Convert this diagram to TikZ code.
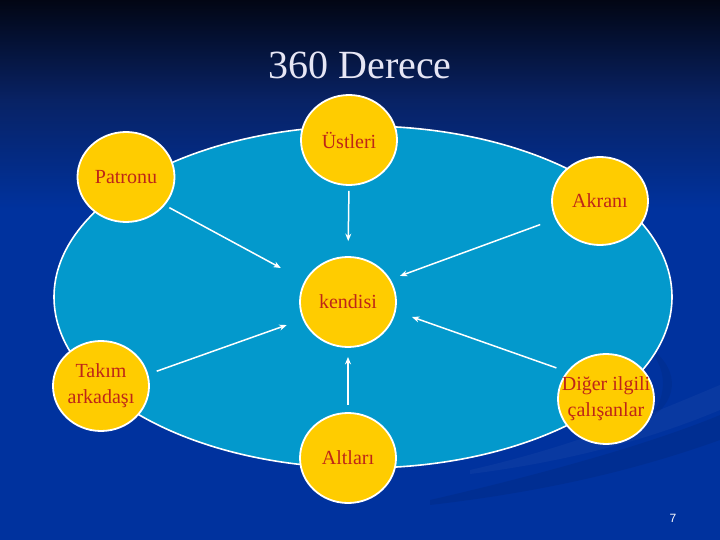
\documentclass[tikz,border=0pt]{standalone}
\usepackage{fontspec}
\setmainfont{Liberation Serif}
\newfontfamily\numfont{Liberation Sans}
\usetikzlibrary{shapes.geometric,arrows.meta}
\definecolor{bgtop}{RGB}{2,6,20}
\definecolor{bgmid}{RGB}{8,34,100}
\definecolor{bgblue}{RGB}{0,50,158}
\definecolor{ellblue}{RGB}{3,153,204}
\definecolor{gold}{RGB}{255,204,0}
\definecolor{txtred}{RGB}{190,38,24}
\definecolor{titlecol}{RGB}{230,230,245}
\tikzset{
  disc/.style={ellipse, draw=white, line width=1.8pt, fill=gold, inner sep=0pt,
    minimum width=96pt, minimum height=90pt},
  lbl/.style={text=txtred, font=\fontsize{20}{26}\selectfont, align=center, inner sep=0pt},
  arr/.style={draw=white, line width=1.5pt, -{Stealth[length=7.5pt,width=6pt]}},
}
\begin{document}
\begin{tikzpicture}[x=1pt,y=-1pt]
\useasboundingbox (0,0) rectangle (720,540);
% background
\fill[bgblue] (0,0) rectangle (720,540);
\shade[top color=bgtop, bottom color=bgmid] (0,0) rectangle (720,100);
\shade[top color=bgmid, bottom color=bgblue] (0,99.5) rectangle (720,210);
% faint swooshes
\fill[black, opacity=0.07] (430,500) .. controls (560,470) and (660,440) .. (720,415)
  -- (720,440) .. controls (650,465) and (560,490) .. (430,505) -- cycle;
\fill[white, opacity=0.035] (470,470) .. controls (580,445) and (660,410) .. (720,385)
  -- (720,410) .. controls (660,435) and (580,460) .. (470,474) -- cycle;
\fill[black, opacity=0.06] (645,345) .. controls (680,365) and (680,400) .. (650,418)
  .. controls (668,395) and (668,367) .. (645,345) -- cycle;
% title
\node[text=titlecol, font=\fontsize{40}{48}\selectfont, inner sep=0pt] (title) at (360,65) {360 Derece};
% field
\node[ellipse, draw=white, line width=1.6pt, fill=ellblue, inner sep=0pt,
  minimum width=618pt, minimum height=342pt] (field) at (363,297) {};
% circles
\node[disc, label={[lbl]center:Üstleri}] (ust) at (349,140) {};
\node[disc, minimum width=97pt, label={[lbl]center:Patronu}] (pat) at (126,177) {};
\node[disc, minimum height=88pt, label={[lbl]center:Akranı}] (akr) at (600,201) {};
\node[disc, label={[lbl]center:kendisi}] (kend) at (348,302) {};
\node[disc, label={[lbl]center:Takım\\arkadaşı}] (tak) at (101,386) {};
\node[disc, label={[lbl]center:Diğer ilgili\\çalışanlar}] (dig) at (606,399) {};
\node[disc, label={[lbl]center:Altları}] (alt) at (348,458) {};
% arrows
\draw[arr, shorten <=5pt, shorten >=15pt] (ust.-90) -- (kend.90);
\draw[arr, shorten <=5pt, shorten >=27pt] (pat.-36) -- (kend.154);
\draw[arr, shorten <=16pt, shorten >=10pt] (akr.202) -- (kend.28);
\draw[arr, shorten <=9pt, shorten >=17pt] (tak.14) -- (kend.201.5);
\draw[arr, shorten <=11pt, shorten >=17pt] (dig.145.5) -- (kend.-11.5);
\draw[arr, shorten <=7pt, shorten >=9pt] (alt.90) -- (kend.-90);
% page number
\node[text=white, font=\numfont\fontsize{12}{14}\selectfont, inner sep=0pt] (pg) at (673,518) {7};
\end{tikzpicture}
\end{document}
